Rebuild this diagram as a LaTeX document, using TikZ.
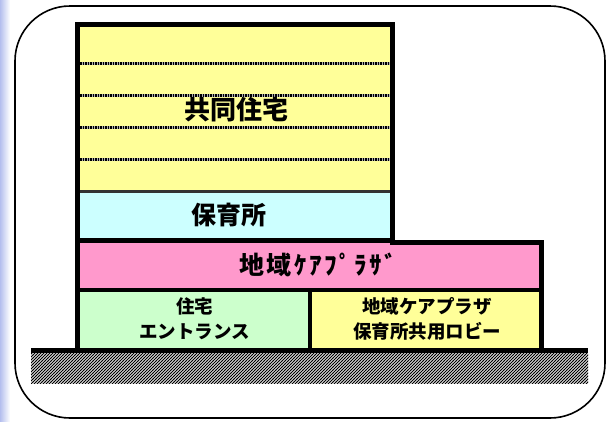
\documentclass[tikz,border=0pt]{standalone}
\usepackage{fontspec}
\newfontfamily\jp{Noto Sans CJK JP}
\newfontfamily\jpsp{Noto Sans CJK JP}[LetterSpace=10]
\usetikzlibrary{patterns}
\pgfdeclarepatternformonly{finehatch}{\pgfqpoint{-1pt}{-1pt}}{\pgfqpoint{4pt}{4pt}}{\pgfqpoint{3pt}{3pt}}{%
  \pgfsetlinewidth{0.9pt}%
  \pgfpathmoveto{\pgfqpoint{-0.1pt}{-0.1pt}}%
  \pgfpathlineto{\pgfqpoint{3.1pt}{3.1pt}}%
  \pgfusepath{stroke}}
\definecolor{fyellow}{HTML}{FFFF99}
\definecolor{fcyan}{HTML}{CCFFFF}
\definecolor{fpink}{HTML}{FF99CC}
\definecolor{fgreen}{HTML}{CCFFCC}
\definecolor{bgblue}{HTML}{B4BEEE}
\tikzset{
  lbl/.style={inner sep=0pt, align=center, font=\jp\bfseries},
  border/.style={line width=5pt, black, line join=miter},
  floorbase/.style={line width=3pt, gray!60},
  floorline/.style={line width=3pt, dash pattern=on 1.5pt off 1pt, black},
}
\begin{document}
\begin{tikzpicture}[x=1pt,y=-1pt]
\useasboundingbox (0,0) rectangle (608,421);
% background strip
\shade[left color=bgblue, right color=white] (0,0) rectangle (10,421);
% outer frame
\draw[line width=1.6pt, rounded corners=55pt, fill=white] (15,6) rectangle (605,418);
% fills
\fill[fyellow] (78,25) rectangle (392,191);
\fill[fcyan] (78,191) rectangle (392,241);
\fill[fpink] (78,241) rectangle (541,290);
\fill[fgreen] (78,290) rectangle (310,349);
\fill[fyellow] (310,290) rectangle (541,349);
% floor lines
\foreach \yy in {63,95,127,159} {
  \draw[floorbase] (80,\yy) -- (390,\yy);
  \draw[floorline] (80,\yy) -- (390,\yy);
}
% internal lines
\draw[line width=2.5pt, black!80] (78,191.5) -- (392,191.5);
\draw[line width=5pt] (78,240.5) -- (392,240.5);
\draw[line width=4pt] (78,290) -- (541,290);
\draw[line width=4pt] (310,290) -- (310,349);
% outer border
\draw[border] (77.5,349) -- (77.5,24.5) -- (392.5,24.5) -- (392.5,242) -- (541.5,242) -- (541.5,349);
% ground
\fill[black] (31,348) rectangle (588,353);
\fill[gray!15] (31,353) rectangle (588,383);
\fill[pattern=finehatch, pattern color=black] (31,353) rectangle (588,383);
% labels
\node[lbl, font=\jp\bfseries\fontsize{26}{30}\selectfont] (t1) at (236,110) {共同住宅};
\node[lbl, font=\jp\bfseries\fontsize{25}{30}\selectfont] (t2) at (229,215.5) {保育所};
\node[lbl, font=\jpsp\bfseries\fontsize{25}{30}\selectfont] (t3) at (318,265) {地域ｹｱﾌﾟﾗｻﾞ};
\node[lbl, font=\jp\bfseries\fontsize{18.5}{25}\selectfont] (t4) at (194.5,318.5) {住宅\\エントランス};
\node[lbl, font=\jp\bfseries\fontsize{18.5}{25}\selectfont] (t5) at (427,318.5) {地域ケアプラザ\\保育所共用ロビー};
\end{tikzpicture}
\end{document}
